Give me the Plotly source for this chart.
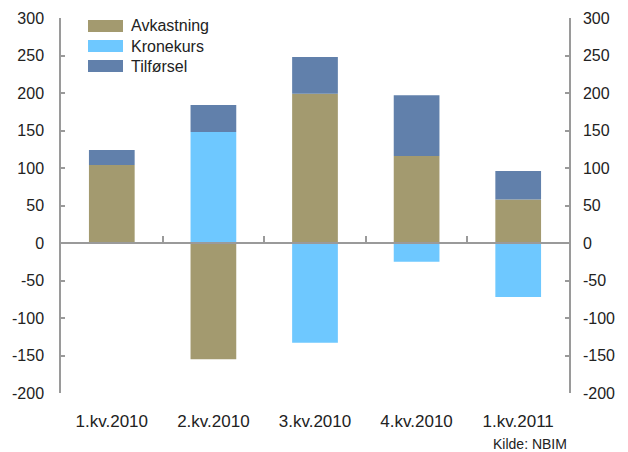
import plotly.graph_objects as go

categories = ["1.kv.2010", "2.kv.2010", "3.kv.2010", "4.kv.2010", "1.kv.2011"]
avkastning = [104, -155, 199, 116, 58]
kronekurs = [0, 148, -133, -25, -72]
tilforsel = [20, 36, 49, 81, 38]

y_tick_values = [-200, -150, -100, -50, 0, 50, 100, 150, 200, 250, 300]
y_tick_labels = ["-200", "-150", "-100", "-50", "0", "50", "100", "150", "200", "250", "300"]

series_names = ["Avkastning", "Kronekurs", "Tilførsel"]
series_values = [avkastning, kronekurs, tilforsel]
colors = ["#A39A6F", "#6EC8FF", "#6180AB"]

OFF = 8  # page body margin
W, H = 628 - OFF, 452 - OFF
ML, MR, MT, MB = 53, 59, 10, 59
pw, ph = W - ML - MR, H - MT - MB

def px(x):
    return (x - OFF - ML) / pw

def py(y):
    return (H - MB - (y - OFF)) / ph

fig = go.Figure()
for name, vals, c in zip(series_names, series_values, colors):
    fig.add_trace(go.Bar(x=categories, y=vals, name=name, marker=dict(color=c, line=dict(width=0)),
                         showlegend=False, xaxis="x", yaxis="y"))

# invisible trace to carry the zero axis / right axis
fig.add_trace(go.Scatter(x=categories, y=[0] * len(categories), mode="markers",
                         marker=dict(opacity=0), showlegend=False, hoverinfo="skip",
                         xaxis="x2", yaxis="y2"))

font = "Liberation Sans, Arial, sans-serif"
txt = "#222222"
axc = "#9a9a9a"

shapes = []
annotations = []
rows = [(20, 32), (40, 52), (60, 72)]
for (y0, y1), name, c in zip(rows, series_names, colors):
    shapes.append(dict(type="rect", xref="paper", yref="paper", x0=px(88), x1=px(123),
                       y0=py(y1), y1=py(y0), fillcolor=c, line=dict(width=0)))
    annotations.append(dict(text=name, xref="paper", yref="paper", x=px(129), y=py((y0 + y1) / 2),
                            xanchor="left", yanchor="middle", showarrow=False,
                            font=dict(size=16, color=txt, family=font)))
annotations.append(dict(text="Kilde: NBIM", xref="paper", yref="paper", x=1.0, y=py(444),
                        xanchor="right", yanchor="middle", showarrow=False,
                        font=dict(size=14, color=txt, family=font)))

yax_common = dict(range=[-200, 300], tickmode="array", tickvals=y_tick_values, ticktext=y_tick_labels,
                  showline=True, linecolor=axc, linewidth=1.5, ticks="inside", ticklen=4,
                  tickcolor=axc, tickwidth=1.5, showgrid=False, zeroline=False,
                  tickfont=dict(size=16, color=txt), automargin=False)

fig.update_layout(
    width=W, height=H,
    margin=dict(l=ML, r=MR, t=MT, b=MB, pad=0, autoexpand=False),
    paper_bgcolor="white", plot_bgcolor="white",
    barmode="relative", bargap=0.55,
    font=dict(family=font, size=16, color=txt),
    showlegend=False,
    xaxis=dict(type="category", range=[-0.5, 4.5], showline=False, ticks="", showgrid=False,
               zeroline=False, tickfont=dict(size=17, color=txt), ticklabelstandoff=16,
               automargin=False),
    xaxis2=dict(type="category", range=[-0.5, 4.5], overlaying="x", anchor="free", position=0.4,
                showline=True, linecolor=axc, linewidth=2, ticks="inside", tickson="boundaries",
                ticklen=6, tickwidth=2, tickcolor=axc, showticklabels=False, showgrid=False,
                zeroline=False, automargin=False),
    yaxis=dict(**yax_common, ticklabelstandoff=12),
    yaxis2=dict(**yax_common, overlaying="y", side="right", anchor="x2", ticklabelstandoff=9),
    shapes=shapes, annotations=annotations,
)

fig.write_html("out.html")
